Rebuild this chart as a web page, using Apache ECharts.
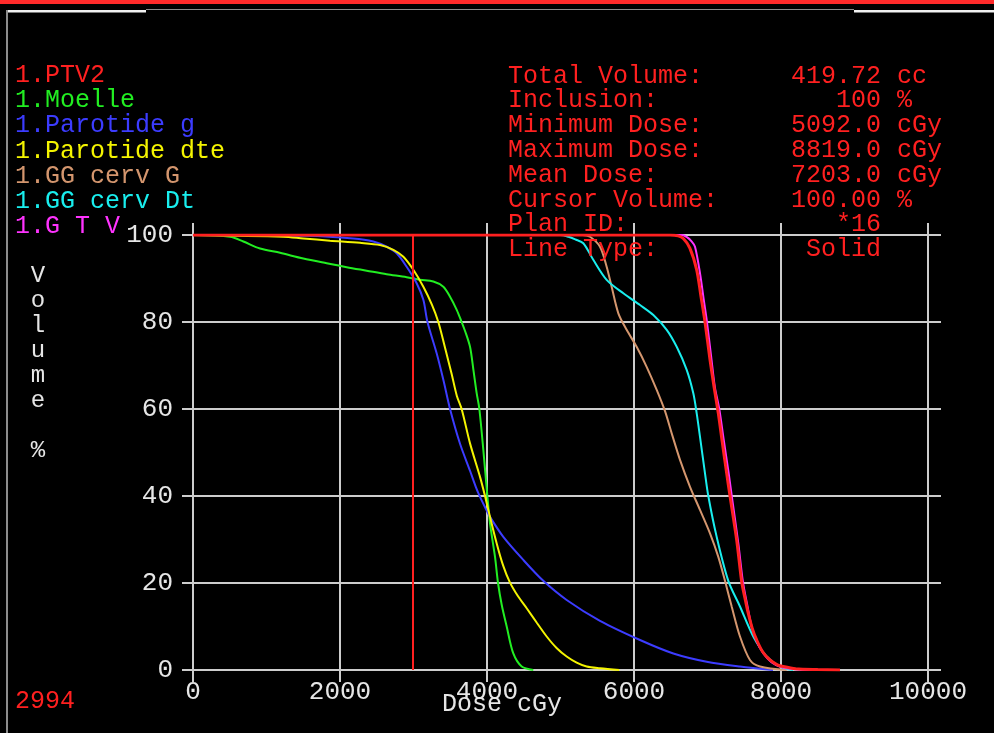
<!DOCTYPE html>
<html><head><meta charset="utf-8">
<script src="https://cdn.jsdelivr.net/npm/echarts@6/dist/echarts.min.js"></script>
<style>html,body{margin:0;padding:0;background:#000;}#c{width:994px;height:733px;}</style>
</head><body><div id="c"></div>
<script>
// ---- data (dose cGy, volume %) ----
const seriesNames = ['1.PTV2','1.Moelle','1.Parotide g','1.Parotide dte','1.GG cerv G','1.GG cerv Dt','1.G T V'];
const seriesColors = ['#ff2020','#22ee22','#3c3cff','#f4f400','#d4966e','#19eeee','#ff33ff'];

const ptv2 = [[0,100],[6490,100],[6600,99.8],[6671,99.2],[6760,97],[6853,92],[6910,86],[6966,80],[7034,71.3],[7090,65],[7147,59],[7200,52.5],[7261,45.2],[7306,40],[7397,29.9],[7465,20.3],[7510,16.5],[7555,13],[7610,9.5],[7669,6.9],[7750,4.2],[7850,2.3],[7950,1.2],[8031,0.8],[8200,0.3],[8500,0.1],[8803,0]];
const moelle = [[0,100],[503,99.6],[685,98.5],[912,96.9],[1184,95.9],[1501,94.6],[1819,93.5],[2091,92.6],[2363,91.8],[2635,91],[2907,90.3],[3088,89.7],[3270,89.3],[3406,88.1],[3497,85.8],[3588,82.8],[3655,80],[3700,78],[3769,74.3],[3815,69],[3860,63.6],[3896,60],[3950,50.6],[4005,40],[4041,33.7],[4109,26],[4150,20],[4200,15],[4268,10],[4358,3.8],[4472,0.8],[4630,0]];
const parotideG = [[0,100],[1547,99.8],[2181,99.2],[2453,98.5],[2635,97.3],[2771,95.8],[2907,92.7],[3043,88.9],[3134,85.1],[3190,80],[3315,72.8],[3406,66.7],[3497,60],[3633,52],[3769,45.8],[3850,42],[3905,39.8],[3980,37.2],[4041,35.2],[4222,30.6],[4494,25.3],[4766,20.5],[5084,16.1],[5537,11.3],[6082,6.9],[6535,3.8],[6989,1.9],[7442,0.8],[7891,0]];
const parotideDte = [[0,100],[1229,99.6],[1501,99.2],[1864,98.7],[2272,98.2],[2544,97.7],[2726,96.6],[2862,95],[2998,92],[3134,88.1],[3250,84],[3338,80],[3430,74],[3520,68],[3590,63],[3655,60],[3769,52.1],[3905,44.4],[3973,40],[4018,36.8],[4132,29.1],[4220,24],[4310,20.2],[4420,17],[4540,14.2],[4680,10.8],[4812,7.7],[4950,5],[5084,3.1],[5220,1.7],[5356,0.8],[5537,0.4],[5800,0]];
const ggCervG = [[0,100],[5300,100],[5401,99.6],[5537,97.3],[5628,92.7],[5696,88.1],[5787,82],[5900,78.2],[6036,74.3],[6172,69.7],[6309,64.4],[6422,59.5],[6513,54.4],[6626,48.3],[6762,42.1],[6898,36.8],[7034,31.4],[7147,26],[7238,20.5],[7329,14.6],[7442,7.7],[7578,2.3],[7714,0.8],[8077,0]];
const ggCervDt = [[0,100],[5000,100],[5107,99.6],[5200,99],[5310,98.1],[5446,94.3],[5628,89.7],[5855,86.6],[6082,83.9],[6263,81.6],[6445,78.2],[6581,74.3],[6717,69],[6807,63.6],[6853,59],[6898,53.6],[6966,45.2],[7011,40],[7125,30.6],[7283,20.5],[7442,14.6],[7623,7.7],[7805,3.1],[7986,0.8],[8163,0]];
const gtv = [[0,100],[6650,100],[6720,99.5],[6780,98.6],[6830,97.3],[6900,91],[6950,85],[6989,80.5],[7050,72],[7100,65],[7160,60],[7220,53],[7290,45],[7330,40],[7420,29],[7480,20.5],[7540,15],[7600,10],[7670,6.5],[7760,3.8],[7870,1.8],[8000,0.7],[8200,0.2],[8500,0]];
const allData = [ptv2, moelle, parotideG, parotideDte, ggCervG, ggCervDt, gtv];

const xTicks = [0, 2000, 4000, 6000, 8000, 10000];
const yTicks = [0, 20, 40, 60, 80, 100];
const cursorDose = 2994;

const statLabels = ['Total Volume:','Inclusion:','Minimum Dose:','Maximum Dose:','Mean Dose:','Cursor Volume:','Plan ID:','Line Type:'];
const statValues = ['419.72','100','5092.0','8819.0','7203.0','100.00','*16','Solid'];
const statUnits  = ['cc','%','cGy','cGy','cGy','%','',''];

// ---- chart ----
const FONT = '"Liberation Mono", "DejaVu Sans Mono", monospace';
const GRID = '#cdcdcd';
const RED = '#ff2020';
const chart = echarts.init(document.getElementById('c'), null, {renderer:'canvas'});

const lineCommon = () => ({color: GRID, width: 2});
const series = allData.map((d, i) => ({
  name: seriesNames[i],
  type: 'line',
  data: d,
  showSymbol: false,
  symbol: 'none',
  smooth: 0.3,
  z: i === 0 ? 6 : (i === 6 ? 5 : 3),
  lineStyle: {color: seriesColors[i], width: i === 0 ? 3 : 2},
  itemStyle: {color: seriesColors[i]},
  animation: false,
  silent: true
}));

const graphics = [
  {type:'rect', shape:{x:0,y:0,width:994,height:4}, style:{fill:'#ff2a2a'}},
  {type:'rect', shape:{x:146,y:9,width:708,height:1}, style:{fill:'#8c8c8c'}},
  {type:'rect', shape:{x:7,y:10,width:139,height:2.5}, style:{fill:'#f2f2f2'}},
  {type:'rect', shape:{x:854,y:10,width:140,height:2.5}, style:{fill:'#f2f2f2'}},
  {type:'rect', shape:{x:6,y:10,width:2,height:723}, style:{fill:'#8c8c8c'}},
  {type:'text', style:{text:'2994', x:15, y:701, fill:RED, font:'25px ' + FONT, align:'left', verticalAlign:'middle'}},
  {type:'text', style:{text:'Dose cGy', x:502, y:704, fill:'#e6e6e6', font:'25px ' + FONT, align:'center', verticalAlign:'middle'}},
  {type:'text', style:{text:'V\no\nl\nu\nm\ne\n\n%', x:38, y:263, fill:'#e6e6e6', font:'24px ' + FONT, lineHeight:25, align:'center', verticalAlign:'top'}}
];
statLabels.forEach((t, i) => {
  const y = 76 + i * 24.8;
  graphics.push({type:'text', z:10, style:{text:t, x:508, y:y, fill:RED, font:'25px ' + FONT, align:'left', verticalAlign:'middle'}});
  graphics.push({type:'text', z:10, style:{text:statValues[i], x:881, y:y, fill:RED, font:'25px ' + FONT, align:'right', verticalAlign:'middle'}});
  if (statUnits[i]) graphics.push({type:'text', z:10, style:{text:statUnits[i], x:897, y:y, fill:RED, font:'25px ' + FONT, align:'left', verticalAlign:'middle'}});
});

const xMin = xTicks[0], xMax = xTicks[xTicks.length - 1], xStep = xTicks[1] - xTicks[0];
const yMin = yTicks[0], yMax = yTicks[yTicks.length - 1], yStep = yTicks[1] - yTicks[0];

chart.setOption({
  backgroundColor: '#000',
  animation: false,
  grid: {left:193, right:66, top:235, bottom:63},
  legend: {
    orient:'vertical', left:10, top:62.5, padding:0, itemGap:0.3,
    itemWidth:0, itemHeight:0, icon:'rect', selectedMode:false,
    textStyle:{fontFamily:FONT, fontSize:25, lineHeight:25},
    data: seriesNames.map((n, i) => ({name:n, textStyle:{color:seriesColors[i]}}))
  },
  xAxis: {type:'value', position:'bottom', min:xMin, max:xMax, interval:xStep,
     axisLine:{show:true, onZero:false, lineStyle:lineCommon()},
     axisTick:{show:false},
     splitLine:{show:true, lineStyle:lineCommon()},
     axisLabel:{color:'#e6e6e6', fontFamily:FONT, fontSize:26, margin:9, formatter: v => String(v)}},
  yAxis: {type:'value', position:'left', min:yMin, max:yMax, interval:yStep,
     axisLine:{show:true, lineStyle:lineCommon()},
     axisTick:{show:false},
     splitLine:{show:true, lineStyle:lineCommon()},
     axisLabel:{color:'#e6e6e6', fontFamily:FONT, fontSize:26, margin:20, padding:[8,0,0,0], formatter: v => String(v)}},
  graphic: graphics,
  series: series
});

// grid-line extensions beyond the plot, positioned through the chart's own scales
const px = v => chart.convertToPixel({xAxisIndex:0}, v);
const py = v => chart.convertToPixel({yAxisIndex:0}, v);
const ext = [];
const seg = (x1, y1, x2, y2) => ext.push({type:'line', z:1, silent:true,
  shape:{x1:x1, y1:y1, x2:x2, y2:y2}, style:{stroke:GRID, lineWidth:2}});
xTicks.forEach(v => {
  const x = px(v);
  seg(x, py(yMax) - 12, x, py(yMax));
  seg(x, py(yMin), x, py(yMin) + 12);
});
yTicks.forEach(v => {
  const y = py(v);
  seg(px(xMin) - 11, y, px(xMin), y);
  seg(px(xMax), y, px(xMax) + 13, y);
});
// cursor line (red, from 0 to 100 %)
const cx = Math.round(px(cursorDose));
ext.push({type:'line', z:50, silent:true,
  shape:{x1:cx, y1:py(yMax), x2:cx, y2:py(yMin)},
  style:{stroke:RED, lineWidth:2}});
chart.setOption({graphic: graphics.concat(ext)});
</script>
</body></html>
